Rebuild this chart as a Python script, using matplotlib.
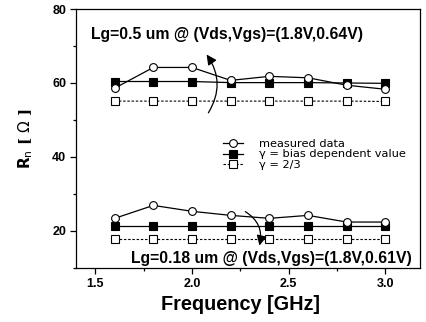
import matplotlib
matplotlib.use("Agg")
import matplotlib.pyplot as plt
from matplotlib.ticker import MultipleLocator

freq = [1.6, 1.8, 2.0, 2.2, 2.4, 2.6, 2.8, 3.0]
upper_measured = [58.6, 64.2, 64.2, 60.7, 61.8, 61.4, 59.4, 58.3]
upper_bias = [60.4, 60.4, 60.4, 60.1, 60.1, 60.1, 60.0, 59.9]
upper_23 = [55.1, 55.1, 55.1, 55.1, 55.1, 55.1, 55.1, 55.0]
lower_measured = [23.4, 26.9, 25.3, 24.2, 23.4, 24.2, 22.4, 22.4]
lower_bias = [21.3, 21.3, 21.3, 21.3, 21.3, 21.3, 21.3, 21.3]
lower_23 = [17.7, 17.7, 17.7, 17.7, 17.7, 17.7, 17.7, 17.7]

legend_labels = ["measured data", "\u03b3 = bias dependent value", "\u03b3 = 2/3"]

plt.rcParams['font.family'] = ['Liberation Sans', 'DejaVu Sans']

fig = plt.figure(figsize=(4.27, 3.22), dpi=100)
ax = fig.add_axes([0.178, 0.168, 0.806, 0.804])

ms_c = 5.6
ms_s = 5.2
for meas, bias, g23, lab in [(upper_measured, upper_bias, upper_23, True),
                             (lower_measured, lower_bias, lower_23, False)]:
    l3, = ax.plot(freq, g23, linestyle=(0, (2.2, 1.6)), color='black', lw=0.8,
                  marker='s', ms=ms_s, mfc='white', mec='black', mew=0.8, zorder=2)
    l2, = ax.plot(freq, bias, linestyle='-', color='black', lw=0.9,
                  marker='s', ms=ms_s, mfc='black', mec='black', mew=0.8, zorder=3)
    l1, = ax.plot(freq, meas, linestyle='-', color='black', lw=0.9,
                  marker='o', ms=ms_c, mfc='white', mec='black', mew=0.8, zorder=4)
    if lab:
        handles = [l1, l2, l3]

ax.legend(handles, legend_labels, loc='upper left', bbox_to_anchor=(0.427, 0.497),
          frameon=False, prop={'family': 'DejaVu Sans', 'size': 8.2},
          handlelength=1.75, handletextpad=1.45, handleheight=0.6,
          labelspacing=0.02, borderaxespad=0, borderpad=0)

ax.set_xlim(1.4, 3.18)
ax.set_ylim(10, 80)
ax.xaxis.set_major_locator(MultipleLocator(0.5))
ax.xaxis.set_minor_locator(MultipleLocator(0.25))
ax.yaxis.set_major_locator(MultipleLocator(20))
ax.yaxis.set_minor_locator(MultipleLocator(10))
ax.set_xticks([1.5, 2.0, 2.5, 3.0])
ax.set_xticklabels(["1.5", "2.0", "2.5", "3.0"])
ax.tick_params(which='major', direction='out', length=4, width=0.9, labelsize=9, pad=3)
ax.tick_params(which='minor', direction='out', length=2.5, width=0.9)
for t in ax.get_xticklabels() + ax.get_yticklabels():
    t.set_fontweight('bold')
for s in ax.spines.values():
    s.set_linewidth(0.9)

ax.set_xlabel("Frequency [GHz]", fontsize=14.3, fontweight='bold')
ax.xaxis.set_label_coords(0.477, -0.103)
ax.set_ylabel(r"$\mathbf{R}_{\mathrm{n}}$ [ $\Omega$ ]", fontsize=11, fontweight='bold',
              family='DejaVu Serif', labelpad=12)

ax.text(1.48, 73.0, "Lg=0.5 um @ (Vds,Vgs)=(1.8V,0.64V)", fontsize=11.3,
        fontweight='bold', va='center', ha='left')
ax.text(3.139, 12.6, "Lg=0.18 um @ (Vds,Vgs)=(1.8V,0.61V)", fontsize=11.3,
        fontweight='bold', va='center', ha='right')

ax.annotate("", xy=(2.067, 68.3), xytext=(2.077, 51.3),
            arrowprops=dict(arrowstyle='-|>,head_length=0.6,head_width=0.3',
                            connectionstyle='arc3,rad=0.35', color='black', lw=0.9))
ax.annotate("", xy=(2.345, 15.3), xytext=(2.263, 25.6),
            arrowprops=dict(arrowstyle='-|>,head_length=0.6,head_width=0.3',
                            connectionstyle='arc3,rad=-0.4', color='black', lw=0.9))

fig.savefig("out.png", dpi=100)
